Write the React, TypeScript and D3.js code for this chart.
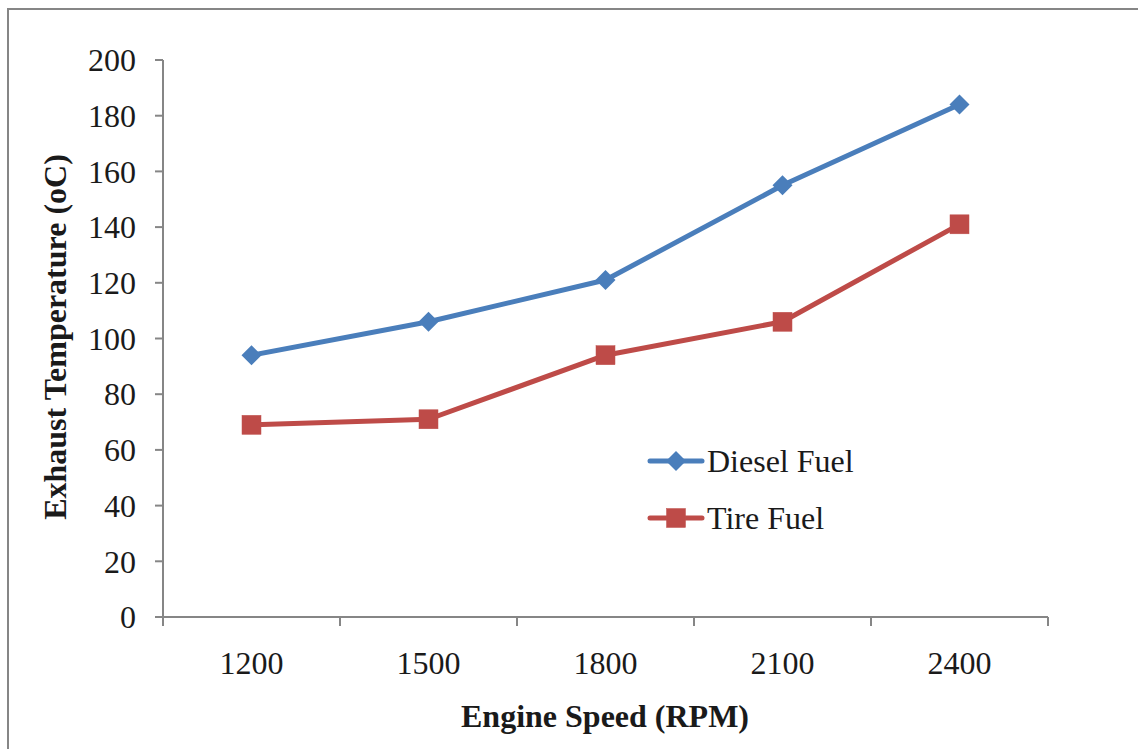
import React from "react";
import * as d3 from "d3";

const categories = ["1200", "1500", "1800", "2100", "2400"];
const dieselFuel = [94, 106, 121, 155, 184];
const tireFuel = [69, 71, 94, 106, 141];
const yTicks = [0, 20, 40, 60, 80, 100, 120, 140, 160, 180, 200];

const W = 1138;
const H = 749;
const plot = { left: 163, right: 1048, top: 60, bottom: 617 };
const axisColor = "#868686";
const font = "'Liberation Serif', 'Times New Roman', serif";
const fs = 32;

const series = [
  { name: "Diesel Fuel", values: dieselFuel, color: "#4a7ebb", marker: "diamond" },
  { name: "Tire Fuel", values: tireFuel, color: "#be4b48", marker: "square" },
];

function Marker({ type, x, y, color }: { type: string; x: number; y: number; color: string }) {
  if (type === "diamond") {
    const r = 10;
    return (
      <path
        d={`M${x},${y - r}L${x + r},${y}L${x},${y + r}L${x - r},${y}Z`}
        fill={color}
      />
    );
  }
  const s = 19;
  return <rect x={x - s / 2} y={y - s / 2} width={s} height={s} fill={color} stroke="#c0504d" strokeWidth={0.5} />;
}

export default function App() {
  const x = d3.scaleBand<string>().domain(categories).range([plot.left, plot.right]);
  const y = d3.scaleLinear().domain([0, 200]).range([plot.bottom, plot.top]);
  const cx = (c: string) => (x(c) ?? 0) + x.bandwidth() / 2;
  const line = d3
    .line<number>()
    .x((_, i) => cx(categories[i]))
    .y((v) => y(v));

  const boundaries = [...categories.map((c) => x(c) ?? 0), plot.right];

  return (
    <svg
      width={W}
      height={H}
      style={{ position: "absolute", left: 0, top: 0, background: "#fff" }}
      fontFamily={font}
    >
      <rect x={8} y={9} width={W + 20} height={H + 20} fill="#fff" stroke={axisColor} strokeWidth={2} />

      {/* y axis */}
      <line x1={plot.left} x2={plot.left} y1={plot.top} y2={plot.bottom} stroke={axisColor} strokeWidth={2} />
      {yTicks.map((t) => (
        <g key={t}>
          <line x1={plot.left - 8} x2={plot.left} y1={y(t)} y2={y(t)} stroke={axisColor} strokeWidth={2} />
          <text x={136} y={y(t)} dy="0.35em" textAnchor="end" fontSize={fs} fill="#1a1a1a">
            {t}
          </text>
        </g>
      ))}

      {/* x axis */}
      <line x1={plot.left - 8} x2={plot.right} y1={plot.bottom} y2={plot.bottom} stroke={axisColor} strokeWidth={2} />
      {boundaries.map((b, i) => (
        <line key={i} x1={b} x2={b} y1={plot.bottom} y2={plot.bottom + 9} stroke={axisColor} strokeWidth={2} />
      ))}
      {categories.map((c) => (
        <text key={c} x={cx(c)} y={674} textAnchor="middle" fontSize={fs} fill="#1a1a1a">
          {c}
        </text>
      ))}

      {/* axis titles */}
      <text x={605} y={727} textAnchor="middle" fontSize={fs} fontWeight="bold" fill="#1a1a1a">
        Engine Speed (RPM)
      </text>
      <text
        transform={`translate(66,337) rotate(-90)`}
        textAnchor="middle"
        fontSize={fs}
        fontWeight="bold"
        fill="#1a1a1a"
      >
        Exhaust Temperature (oC)
      </text>

      {/* series */}
      {series.map((s) => (
        <g key={s.name}>
          <path d={line(s.values) ?? ""} fill="none" stroke={s.color} strokeWidth={5} strokeLinejoin="round" />
          {s.values.map((v, i) => (
            <Marker key={i} type={s.marker} x={cx(categories[i])} y={y(v)} color={s.color} />
          ))}
        </g>
      ))}

      {/* legend */}
      {series.map((s, i) => {
        const ly = 461 + i * 57;
        return (
          <g key={s.name}>
            <line x1={650} x2={702} y1={ly} y2={ly} stroke={s.color} strokeWidth={5} strokeLinecap="round" />
            <Marker type={s.marker} x={676} y={ly} color={s.color} />
            <text x={707} y={ly} dy="0.35em" fontSize={fs} fill="#1a1a1a">
              {s.name}
            </text>
          </g>
        );
      })}
    </svg>
  );
}
